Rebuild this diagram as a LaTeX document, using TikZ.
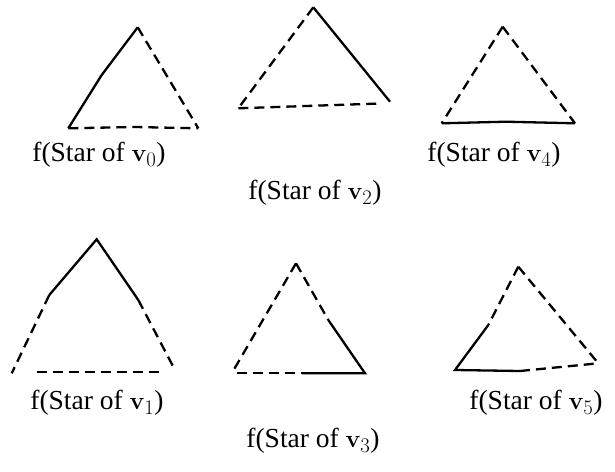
\documentclass[tikz,border=0pt]{standalone}
\usepackage[no-math]{fontspec}
\setmainfont{Liberation Serif}
\begin{document}
\begin{tikzpicture}[x=1pt,y=-1pt,
  solidedge/.style={line width=2.3pt,line cap=butt},
  dashedge/.style={line width=2.3pt,dash pattern=on 10pt off 6pt},
  lbl/.style={font=\fontsize{27.5}{32}\selectfont,inner sep=0pt}]
\useasboundingbox (0,0) rectangle (615,471);
% v0
\coordinate (a0) at (137.7,27.3);
\coordinate (a0m) at (101.7,75);
\coordinate (b0) at (68.3,128.3);
\coordinate (b0m) at (135,127);
\coordinate (c0) at (198.3,128.3);
\draw[solidedge] (a0) -- (a0m) -- (b0);
\draw[dashedge] (a0) -- (c0);
\draw[dashedge] (b0) -- (b0m) -- (c0);
% v2
\coordinate (a2) at (313.3,7.3);
\coordinate (b2) at (238.3,108.3);
\coordinate (c2) at (390,101.7);
\coordinate (e2) at (380,103.5);
\draw[solidedge] (a2) -- (c2);
\draw[dashedge] (a2) -- (b2);
\draw[dashedge] (b2) -- (e2);
% v4
\coordinate (a4) at (502.7,26.7);
\coordinate (b4) at (441.7,123.3);
\coordinate (b4m) at (506,121.7);
\coordinate (c4) at (575,123.3);
\draw[dashedge] (a4) -- (b4);
\draw[dashedge] (a4) -- (c4);
\draw[solidedge] (b4) -- (b4m) -- (c4);
% v1
\coordinate (a1) at (96.7,239.3);
\coordinate (l1) at (49.3,295);
\coordinate (b1) at (11.7,373.3);
\coordinate (r1) at (138.3,300);
\coordinate (c1) at (175,370);
\coordinate (d1) at (36.7,371.7);
\coordinate (e1) at (162,371.7);
\draw[solidedge] (l1) -- (a1) -- (r1);
\draw[dashedge] (l1) -- (b1);
\draw[dashedge] (r1) -- (c1);
\draw[dashedge] (d1) -- (e1);
% v3
\coordinate (a3) at (296,263.3);
\coordinate (b3) at (231.7,373.3);
\coordinate (r3) at (328.3,320);
\coordinate (c3) at (365,373.3);
\coordinate (m3) at (301.7,373.3);
\coordinate (d3) at (236.7,373.3);
\draw[dashedge] (a3) -- (b3);
\draw[dashedge] (a3) -- (r3);
\draw[solidedge] (r3) -- (c3) -- (m3);
\draw[dashedge] (d3) -- (m3);
% v5
\coordinate (a5) at (518.3,266.7);
\coordinate (l5) at (488.3,325);
\coordinate (b5) at (455,370);
\coordinate (m5) at (520,371);
\coordinate (c5) at (598.3,363.3);
\draw[dashedge] (a5) -- (l5);
\draw[solidedge] (l5) -- (b5) -- (m5);
\draw[dashedge] (m5) -- (c5);
\draw[dashedge] (a5) -- (c5);
% labels
\node[lbl] (t0) at (99,155) {f(Star of $\mathbf{v}_0$)};
\node[lbl] (t2) at (315,193) {f(Star of $\mathbf{v}_2$)};
\node[lbl] (t4) at (494,155) {f(Star of $\mathbf{v}_4$)};
\node[lbl] (t1) at (97,403) {f(Star of $\mathbf{v}_1$)};
\node[lbl] (t3) at (313,441) {f(Star of $\mathbf{v}_3$)};
\node[lbl] (t5) at (536,403) {f(Star of $\mathbf{v}_5$)};
\end{tikzpicture}
\end{document}
